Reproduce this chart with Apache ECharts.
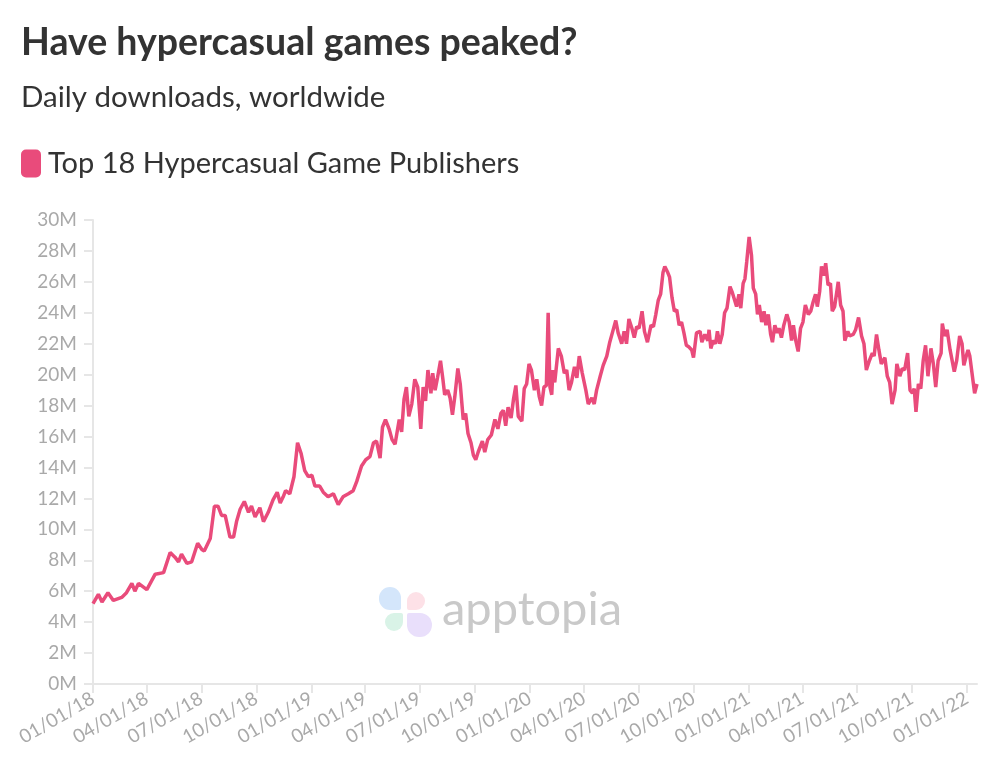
<!DOCTYPE html>
<html>
<head>
<meta charset="utf-8">
<script src="https://cdn.jsdelivr.net/npm/echarts@6.0.0/dist/echarts.min.js"></script>
<style>
  html, body { margin: 0; padding: 0; background: #fff; }
  #chart { width: 1000px; height: 763px; }
</style>
</head>
<body>
<div id="chart"></div>
<script>
// days since 01/01/18 for each point
const dayIndex = [
  0, 9, 15, 25, 34, 48, 56, 65, 70, 76, 90, 104, 118, 129, 137, 143, 148, 157, 165, 175,
  182, 186, 196, 203, 209, 215, 221, 229, 235, 240, 246, 253, 260, 265, 271, 279, 285, 293, 301, 308,
  313, 318, 322, 329, 336, 342, 348, 354, 360, 366, 371, 379, 385, 393, 402, 410, 418, 427, 435, 441,
  449, 456, 463, 469, 474, 480, 484, 489, 495, 500, 505, 512, 516, 520, 524, 528, 533, 538, 543, 548,
  552, 556, 560, 565, 568, 572, 576, 581, 585, 588, 593, 597, 601, 605, 610, 614, 619, 623, 627, 632,
  636, 640, 644, 651, 655, 660, 666, 672, 677, 682, 686, 690, 694, 699, 703, 707, 711, 717, 721, 725,
  729, 733, 738, 742, 746, 750, 754, 758, 761, 764, 767, 769, 772, 778, 783, 788, 792, 796, 800, 805,
  809, 813, 818, 824, 828, 834, 838, 842, 848, 853, 859, 864, 869, 874, 878, 884, 888, 892, 896, 901,
  905, 909, 913, 918, 922, 927, 933, 937, 941, 945, 949, 953, 956, 961, 964, 968, 972, 976, 980, 984,
  988, 992, 996, 1001, 1004, 1009, 1015, 1018, 1023, 1028, 1030, 1033, 1037, 1041, 1044, 1048, 1052, 1056, 1060, 1065,
  1069, 1072, 1076, 1080, 1083, 1087, 1090, 1093, 1097, 1101, 1104, 1108, 1111, 1114, 1118, 1122, 1125, 1129, 1133, 1136,
  1140, 1144, 1147, 1151, 1155, 1160, 1164, 1168, 1171, 1175, 1179, 1183, 1187, 1191, 1196, 1200, 1204, 1208, 1211, 1215,
  1218, 1222, 1225, 1229, 1233, 1236, 1240, 1246, 1250, 1254, 1257, 1262, 1265, 1271, 1275, 1280, 1285, 1289, 1293, 1298,
  1303, 1306, 1310, 1314, 1318, 1324, 1328, 1332, 1336, 1341, 1344, 1349, 1353, 1357, 1362, 1366, 1370, 1373, 1376, 1380,
  1384, 1388, 1392, 1396, 1401, 1405, 1409, 1413, 1418, 1420, 1424, 1428, 1433, 1436, 1440, 1444, 1449, 1453, 1456, 1460,
  1463, 1466, 1470, 1474, 1478
]

// daily downloads, millions
const downloads = [
  5.2, 5.8, 5.3, 5.9, 5.4, 5.6, 5.9, 6.5, 6.0, 6.5, 6.1, 7.1, 7.2, 8.5, 8.2, 7.9, 8.4, 7.8, 7.9, 9.1,
  8.7, 8.6, 9.4, 11.5, 11.5, 10.9, 10.9, 9.5, 9.5, 10.5, 11.3, 11.8, 11.1, 11.5, 10.8, 11.4, 10.5, 11.1, 11.9, 12.4,
  11.7, 12.1, 12.5, 12.3, 13.4, 15.6, 14.9, 13.8, 13.4, 13.5, 12.8, 12.8, 12.4, 12.1, 12.3, 11.6, 12.1, 12.3, 12.5, 13.1,
  14.1, 14.5, 14.7, 15.6, 15.7, 14.6, 16.6, 17.1, 16.5, 15.8, 15.5, 17.1, 16.3, 18.4, 19.2, 17.3, 18.1, 19.7, 19.2, 16.5,
  19.2, 18.3, 20.3, 18.8, 20.1, 19.0, 19.8, 20.9, 19.7, 18.7, 19.0, 18.5, 17.4, 18.6, 20.4, 19.4, 17.1, 17.5, 16.2, 15.6,
  14.8, 14.5, 15.0, 15.7, 15.0, 15.8, 16.1, 17.1, 16.5, 17.5, 17.7, 16.7, 17.9, 17.2, 18.4, 19.3, 17.3, 17.0, 19.1, 19.4,
  20.7, 20.3, 19.0, 19.7, 18.6, 18.0, 19.2, 19.3, 24.0, 19.2, 18.7, 20.3, 19.5, 21.7, 21.2, 20.1, 20.3, 19.0, 19.5, 20.5,
  19.8, 21.2, 20.1, 19.0, 18.1, 18.5, 18.1, 19.0, 19.9, 20.6, 21.2, 22.1, 22.8, 23.5, 22.7, 22.0, 22.8, 22.0, 23.6, 23.0,
  22.4, 23.1, 23.0, 24.1, 22.8, 22.1, 23.2, 23.1, 23.9, 24.8, 25.2, 26.6, 27.0, 26.6, 26.3, 25.0, 24.1, 24.2, 23.2, 23.4,
  22.7, 21.9, 21.8, 21.6, 21.1, 22.7, 22.8, 22.1, 22.6, 22.2, 22.9, 21.7, 22.2, 22.0, 22.8, 22.0, 22.6, 24.0, 24.3, 25.7,
  25.3, 25.2, 24.4, 25.2, 24.3, 25.9, 26.2, 27.3, 28.9, 27.7, 25.6, 25.2, 23.9, 24.5, 23.4, 24.1, 23.2, 23.9, 22.6, 22.1,
  23.2, 22.7, 23.0, 22.4, 23.2, 23.9, 23.4, 22.2, 23.2, 22.2, 21.5, 23.0, 23.4, 24.5, 23.9, 24.1, 24.7, 25.2, 24.4, 25.4,
  27.0, 26.4, 27.2, 25.8, 25.9, 24.1, 24.4, 26.0, 24.5, 24.1, 22.2, 22.8, 22.5, 22.6, 22.9, 23.7, 22.5, 22.0, 20.3, 20.9,
  21.4, 21.2, 22.6, 21.6, 20.7, 21.1, 19.9, 19.5, 18.1, 19.0, 20.7, 19.9, 20.4, 20.3, 21.4, 19.0, 18.8, 19.1, 17.6, 19.4,
  19.1, 20.9, 21.9, 19.9, 21.7, 20.7, 19.2, 20.9, 21.4, 23.3, 22.5, 22.9, 21.6, 21.6, 20.2, 20.9, 22.5, 22.0, 20.6, 21.2,
  21.6, 21.2, 20.0, 18.8, 19.4
]

const yTicks = { min: 0, max: 30, step: 2 }
const quarterMonths = ['01', '04', '07', '10']

// one category per day, MM/DD/YY
const dates = []
const start = Date.UTC(2018, 0, 1)
for (let i = 0; i <= 1478; i++) {
  const d = new Date(start + i * 86400000)
  const mm = String(d.getUTCMonth() + 1).padStart(2, '0')
  const dd = String(d.getUTCDate()).padStart(2, '0')
  const yy = String(d.getUTCFullYear()).slice(2)
  dates.push(mm + '/' + dd + '/' + yy)
}

const isQuarterStart = (index, value) => value.slice(3, 5) === '01' && quarterMonths.includes(value.slice(0, 2))

const pink = '#e94b7b'
const axisGray = '#e6e6e6'
const labelGray = '#a9a9a9'
const font = 'Lato'

const chart = echarts.init(document.getElementById('chart'))
chart.setOption({
  animation: false,
  title: [
    {
      text: 'Have hypercasual games peaked?',
      left: 21,
      top: 24,
      padding: 0,
      textStyle: { fontFamily: font, fontSize: 37.5, fontWeight: 'bold', color: '#333' },
    },
    {
      text: 'Daily downloads, worldwide',
      left: 21,
      top: 82,
      padding: 0,
      textStyle: { fontFamily: font, fontSize: 29.5, fontWeight: 'normal', color: '#333' },
    },
  ],
  legend: {
    left: 21,
    top: 149,
    padding: 0,
    icon: 'roundRect',
    itemWidth: 20,
    itemHeight: 28,
    textStyle: { fontFamily: font, fontSize: 29, color: '#333', padding: [0, 0, 0, 2] },
    data: ['Top 18 Hypercasual Game Publishers'],
  },
  grid: { left: 93, right: 23, top: 220, bottom: 79, containLabel: false },
  xAxis: {
    type: 'category',
    data: dates,
    boundaryGap: false,
    axisLine: { lineStyle: { color: axisGray, width: 2 } },
    axisTick: { interval: isQuarterStart, length: 9, lineStyle: { color: axisGray, width: 2 } },
    axisLabel: {
      interval: isQuarterStart,
      rotate: 30,
      margin: 13,
      color: labelGray,
      fontFamily: font,
      fontSize: 19,
    },
    splitLine: { show: false },
  },
  yAxis: {
    type: 'value',
    min: yTicks.min,
    max: yTicks.max,
    interval: yTicks.step,
    axisLine: { show: true, lineStyle: { color: axisGray, width: 2 } },
    axisTick: { show: true, length: 9, lineStyle: { color: axisGray, width: 2 } },
    axisLabel: { formatter: '{value}M', margin: 16, color: labelGray, fontFamily: font, fontSize: 19 },
    splitLine: { show: false },
  },
  // apptopia watermark
  graphic: [
    { type: 'rect', z: 0, shape: { x: 379, y: 587, width: 22, height: 23, r: [11, 11, 2, 11] }, style: { fill: '#d4e6fb' } },
    { type: 'rect', z: 0, shape: { x: 407, y: 592, width: 18, height: 18, r: [9, 9, 9, 2] }, style: { fill: '#fde1e7' } },
    { type: 'rect', z: 0, shape: { x: 385, y: 613, width: 18, height: 18, r: [9, 2, 9, 9] }, style: { fill: '#d9f3e7' } },
    { type: 'rect', z: 0, shape: { x: 407, y: 613, width: 25, height: 24, r: [2, 12, 12, 12] }, style: { fill: '#e9dffb' } },
    {
      type: 'text',
      z: 0,
      x: 442,
      y: 610,
      style: { text: 'apptopia', font: '47px Lato', fill: '#c9c9c9', verticalAlign: 'middle' },
    },
  ],
  series: [
    {
      name: 'Top 18 Hypercasual Game Publishers',
      type: 'line',
      data: dayIndex.map((d, i) => [d, downloads[i]]),
      showSymbol: false,
      color: pink,
      lineStyle: { width: 3.5, color: pink },
    },
  ],
})
</script>
</body>
</html>
